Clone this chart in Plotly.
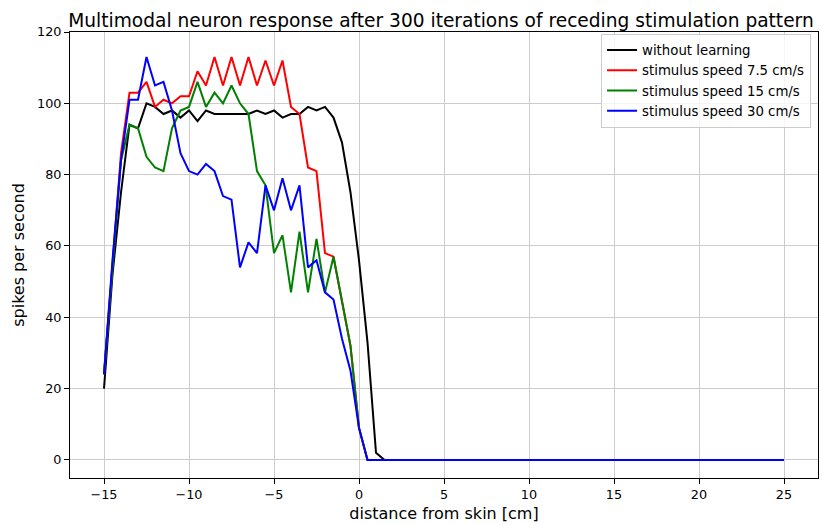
import numpy as np
import plotly.graph_objects as go

# distance from skin [cm], sampled every 0.5 cm
distance = np.arange(-15, 25.5, 0.5)

# firing rates (spikes per second) for -15 ... 1.5 cm; beyond that every curve stays at 0
without_learning_head = [20, 52, 75, 94, 93, 100, 99, 97, 98, 96, 98, 95, 98, 97, 97, 97,
                         97, 97, 98, 97, 98, 96, 97, 97, 99, 98, 99, 96, 89, 75, 56, 33,
                         2, 0]
speed_7_5_head = [24, 56, 86, 103, 103, 106, 99, 101, 100, 102, 102, 109, 105, 113, 105, 113,
                  105, 113, 105, 112, 105, 112, 99, 97, 82, 81, 58, 57, 45, 32, 9, 0,
                  0, 0]
speed_15_head = [24, 55, 84, 94, 93, 85, 82, 81, 93, 98, 99, 106, 99, 103, 100, 105,
                 100, 97, 81, 77, 58, 63, 47, 64, 47, 62, 47, 57, 45, 32, 9, 0,
                 0, 0]
speed_30_head = [24, 56, 84, 101, 101, 113, 105, 106, 98, 86, 81, 80, 83, 81, 74, 73,
                 54, 61, 58, 77, 70, 79, 70, 77, 54, 56, 47, 45, 34, 25, 9, 0,
                 0, 0]
silent_tail = [0, 0, 0, 0, 0, 0, 0, 0, 0, 0, 0, 0, 0, 0, 0, 0,
               0, 0, 0, 0, 0, 0, 0, 0, 0, 0, 0, 0, 0, 0, 0, 0,
               0, 0, 0, 0, 0, 0, 0, 0, 0, 0, 0, 0, 0, 0, 0]

without_learning = without_learning_head + silent_tail
speed_7_5 = speed_7_5_head + silent_tail
speed_15 = speed_15_head + silent_tail
speed_30 = speed_30_head + silent_tail

series_names = ["without learning", "stimulus speed 7.5 cm/s",
                "stimulus speed 15 cm/s", "stimulus speed 30 cm/s"]
series_values = [without_learning, speed_7_5, speed_15, speed_30]
series_colors = ["#000000", "#ff0000", "#008000", "#0000ff"]

x_ticks = [-15, -10, -5, 0, 5, 10, 15, 20, 25]
y_ticks = [0, 20, 40, 60, 80, 100, 120]

FONT = "DejaVu Sans"

fig = go.Figure()
for name, vals, col in zip(series_names, series_values, series_colors):
    fig.add_trace(go.Scatter(x=distance, y=vals, mode="lines", name=name,
                             line=dict(color=col, width=2)))

axis_common = dict(
    showline=True, linecolor="black", linewidth=1, mirror=True,
    ticks="outside", ticklen=5, tickwidth=1, tickcolor="black",
    showgrid=True, gridcolor="#cccccc", gridwidth=1, zeroline=False,
    tickfont=dict(family=FONT, size=12.8, color="black"),
)

fig.update_layout(
    width=822, height=525,
    margin=dict(l=69.5, r=4, t=31.5, b=46.7),
    paper_bgcolor="white", plot_bgcolor="white",
    title=dict(text="Multimodal neuron response after 300 iterations of receding stimulation pattern",
               font=dict(family=FONT, size=18.6, color="black"),
               x=0.5365, xanchor="center", y=0.9486, yanchor="bottom"),
    xaxis=dict(range=[-17, 27], tickvals=x_ticks,
               ticktext=[("\u2212" + str(-t)) if t < 0 else str(t) for t in x_ticks],
               title=dict(text="distance from skin [cm]", font=dict(family=FONT, size=16, color="black"),
                          standoff=6),
               **axis_common),
    yaxis=dict(range=[-5.05, 120], tickvals=y_ticks,
               title=dict(text="spikes per second", font=dict(family=FONT, size=16, color="black"),
                          standoff=8),
               **axis_common),
    legend=dict(x=0.9907, y=0.996, xanchor="right", yanchor="top",
                bgcolor="rgba(255,255,255,0.8)", bordercolor="#cccccc", borderwidth=1,
                font=dict(family=FONT, size=13.3, color="black")),
)

fig.write_html("out.html")
